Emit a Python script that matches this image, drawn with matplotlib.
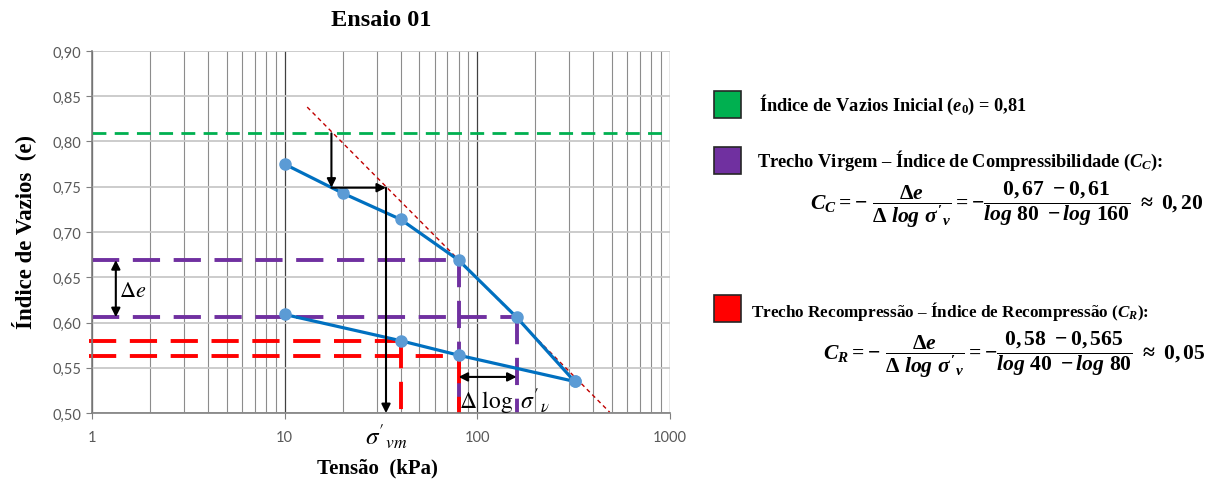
import matplotlib
matplotlib.use("Agg")
import matplotlib.pyplot as plt
from matplotlib.patches import Rectangle
from matplotlib.ticker import FuncFormatter, FixedLocator, LogLocator, NullFormatter

plt.rcParams['mathtext.fontset'] = 'stix'
# fonte "custom" em negrito, usada so nas formulas da legenda
plt.rcParams['mathtext.rm'] = 'Liberation Serif:bold'
plt.rcParams['mathtext.it'] = 'Liberation Serif:italic:bold'
plt.rcParams['mathtext.bf'] = 'Liberation Serif:bold'

# ensaio 01 - curva e x log(tensao)
tensao_carga = [10, 20, 40, 80, 160, 320]
e_carga = [0.775, 0.743, 0.714, 0.669, 0.606, 0.535]
tensao_descarga = [320, 80, 40, 10]
e_descarga = [0.535, 0.564, 0.580, 0.609]

e0 = 0.809
# reta virgem (tangente)
reta_x = [13.1, 487]
reta_y = [0.838, 0.501]
# pontos usados no calculo de Cc e Cr
cc_x = [80, 160]
cc_e = [0.669, 0.606]
cr_x = [40, 80]
cr_e = [0.580, 0.563]
# construcao de Pacheco Silva
ps_x = 17.5
ps_e = 0.749
sigma_vm = 33.6

y_ticks = [0.50, 0.55, 0.60, 0.65, 0.70, 0.75, 0.80, 0.85, 0.90]
x_ticks = [1, 10, 100, 1000]

fig = plt.figure(figsize=(12.18, 4.81), dpi=100)
ax = fig.add_axes([0.0755, 0.139, 0.4745, 0.753])

ax.set_xscale('log')
ax.set_xlim(1, 1000)
ax.set_ylim(0.5, 0.9)
ax.xaxis.set_major_locator(FixedLocator(x_ticks))
ax.xaxis.set_major_formatter(FuncFormatter(lambda v, p: f"{v:g}"))
ax.xaxis.set_minor_locator(LogLocator(base=10, subs=range(2, 10)))
ax.xaxis.set_minor_formatter(NullFormatter())
ax.yaxis.set_major_locator(FixedLocator(y_ticks))
ax.yaxis.set_major_formatter(FuncFormatter(lambda v, p: f"{v:.2f}".replace('.', ',')))

ax.grid(axis='y', color='#c8c8c8', lw=1.3)
ax.grid(axis='x', which='major', color='#404040', lw=0.9)
ax.grid(axis='x', which='minor', color='#8c8c8c', lw=0.8)
ax.set_axisbelow(True)
for s in ['top', 'right']:
    ax.spines[s].set_visible(False)
for s in ['left', 'bottom']:
    ax.spines[s].set_color('#7f7f7f')
    ax.spines[s].set_linewidth(1.2)
ax.tick_params(which='major', length=4, color='#7f7f7f', labelcolor='#595959',
               labelsize=10.5)
ax.tick_params(which='minor', length=0)
for lb in ax.get_xticklabels() + ax.get_yticklabels():
    lb.set_fontfamily('Lato')
ax.tick_params(axis='x', pad=8)

# linhas auxiliares
ax.axhline(e0, color='#00B050', lw=2, dashes=(5, 3))
ax.plot(reta_x, reta_y, color='#C00000', lw=1, dashes=(3, 2.5))

roxo = '#7030A0'
for xv, ev in zip(cc_x, cc_e):
    ax.plot([1, xv], [ev, ev], color=roxo, lw=2.8, dashes=(7, 3.5))
    ax.plot([xv, xv], [ev, 0.5], color=roxo, lw=2.8, dashes=(7, 3.5))
for xv, ev in zip(cr_x, cr_e):
    ax.plot([0.97, xv], [ev, ev], color='#FF0000', lw=2.8, dashes=(7, 3.5), clip_on=False)
    ax.plot([xv, xv], [ev, 0.5], color='#FF0000', lw=2.8, dashes=(7, 3.5))

# curva de compressao
ax.plot(tensao_carga, e_carga, color='#0070C0', lw=2.3, marker='o', ms=8,
        mfc='#5B9BD5', mec='#5B9BD5', zorder=5)
ax.plot(tensao_descarga, e_descarga, color='#0070C0', lw=2.3, marker='o', ms=8,
        mfc='#5B9BD5', mec='#5B9BD5', zorder=5)

seta = dict(arrowstyle='-|>', color='black', lw=1.5, mutation_scale=13,
            shrinkA=0, shrinkB=0)
seta2 = dict(arrowstyle='<|-|>', color='black', lw=1.5, mutation_scale=13,
             shrinkA=0, shrinkB=0)
ax.annotate('', xy=(ps_x, ps_e), xytext=(ps_x, e0), arrowprops=seta, zorder=6)
ax.annotate('', xy=(sigma_vm, ps_e), xytext=(ps_x, ps_e), arrowprops=seta, zorder=6)
ax.annotate('', xy=(sigma_vm, 0.5), xytext=(sigma_vm, ps_e), arrowprops=seta, zorder=6)
ax.annotate('', xy=(1.33, cc_e[1]), xytext=(1.33, cc_e[0]), arrowprops=seta2, zorder=6)
ax.annotate('', xy=(cc_x[1], 0.54), xytext=(cc_x[0], 0.54), arrowprops=seta2, zorder=6)

ax.text(1.38, 0.636, r'$\Delta e$', fontsize=16, va='center', ha='left')
ax.text(cc_x[0], 0.514, r"$\Delta\ \log\ \sigma'_{\nu}$", fontsize=17,
        va='center', ha='left', zorder=7)
ax.text(sigma_vm, -0.062, r"$\sigma'_{vm}$", fontsize=18, ha='center', va='center',
        transform=ax.get_xaxis_transform())

serif = 'Liberation Serif'
fig.text(0.3128, 0.958, 'Ensaio 01', fontsize=17.5, fontweight='bold', family=serif,
         ha='center', va='center')
fig.text(0.019, 0.517, 'Índice de Vazios  (e)', fontsize=16.5, fontweight='bold',
         family=serif, rotation=90, ha='center', va='center')
fig.text(0.310, 0.025, 'Tensão  (kPa)', fontsize=15, fontweight='bold', family=serif,
         ha='center', va='center')

# legenda lateral
for yb, cor in [(0.7526, '#00B050'), (0.6362, '#7030A0'), (0.3285, '#FF0000')]:
    fig.add_artist(Rectangle((0.5862, yb), 0.0222, 0.0561, transform=fig.transFigure,
                             facecolor=cor, edgecolor='#262626', lw=1.2))

leg = dict(fontsize=13.2, fontweight='bold', family=serif, va='center',
           math_fontfamily='custom')
fig.text(0.6232, 0.7817, r'Índice de Vazios Inicial ($e_0$) = 0,81', **leg)
fig.text(0.6215, 0.6653,
         r'Trecho Virgem – Índice de Compressibilidade ($C_C$):', **leg)
leg['fontsize'] = 12.3
fig.text(0.6163, 0.352,
         r'Trecho Recompressão – Índice de Recompressão ($C_R$):', **leg)

form = dict(fontsize=15.6, va='center', math_fontfamily='custom')
fig.text(0.665, 0.5738,
         r"$C_C = -\ \dfrac{\Delta e}{\Delta\ log\ \sigma'_v} = -\dfrac{0,67\ -0,61}{log\ 80\ -log\ 160}\ \approx\ 0,20$",
         **form)
fig.text(0.6757, 0.262,
         r"$C_R = -\ \dfrac{\Delta e}{\Delta\ log\ \sigma'_v} = -\dfrac{0,58\ -0,565}{log\ 40\ -log\ 80}\ \approx\ 0,05$",
         **form)

fig.savefig('out.png', dpi=100)
